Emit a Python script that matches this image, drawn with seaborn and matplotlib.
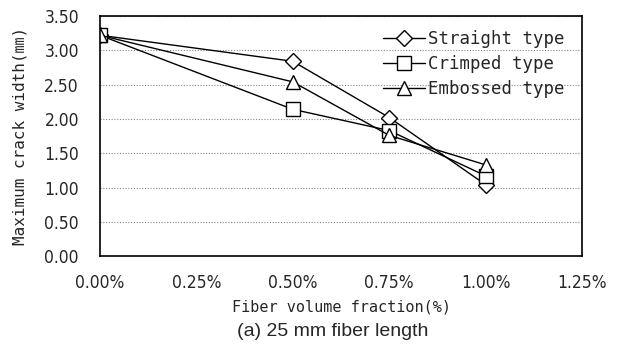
import matplotlib
matplotlib.use("Agg")
import matplotlib.pyplot as plt
import seaborn as sns
import pandas as pd
from matplotlib.ticker import FuncFormatter

fractions = [0.00, 0.50, 0.75, 1.00]
straight = [3.22, 2.84, 2.02, 1.04]
crimped = [3.22, 2.14, 1.83, 1.17]
embossed = [3.22, 2.54, 1.76, 1.33]
series_names = ["Straight type", "Crimped type", "Embossed type"]
x_ticks = [0.00, 0.25, 0.50, 0.75, 1.00, 1.25]
y_ticks = [0.00, 0.50, 1.00, 1.50, 2.00, 2.50, 3.00, 3.50]

rows = []
for name, vals in zip(series_names, [straight, crimped, embossed]):
    for f, v in zip(fractions, vals):
        rows.append({"fraction": f, "width": v, "type": name})
df = pd.DataFrame(rows)

sns.set_style("white")
plt.rcParams['font.family'] = ['DejaVu Sans', 'Noto Sans CJK KR']

fig = plt.figure(figsize=(6.2, 3.48), dpi=100)
ax = fig.add_axes([0.161, 0.264, 0.778, 0.690])

sns.lineplot(data=df, x="fraction", y="width", hue="type", style="type",
             markers={"Straight type": "D", "Crimped type": "s", "Embossed type": "^"},
             dashes=False, palette=["black"] * 3, linewidth=1.0,
             markersize=10.5, markerfacecolor="white", markeredgecolor="black",
             markeredgewidth=1.0, ax=ax)
for line in ax.get_lines():
    if line.get_marker() == "D":
        line.set_markersize(8.5)

ax.set_xlim(0, 1.25)
ax.set_ylim(0, 3.5)
ax.set_xticks(x_ticks)
ax.set_yticks(y_ticks)
ax.xaxis.set_major_formatter(FuncFormatter(lambda v, p: f"{v:.2f}%"))
ax.yaxis.set_major_formatter(FuncFormatter(lambda v, p: f"{v:.2f}"))
ax.tick_params(axis="x", labelsize=12.5, length=0, pad=13)
ax.tick_params(axis="y", labelsize=12.5, length=0, pad=15)
for lab in ax.get_xticklabels() + ax.get_yticklabels():
    lab.set_fontstretch("condensed")
ax.yaxis.grid(True, linestyle=(0, (1, 1.5)), color="#888888", linewidth=0.8)
ax.xaxis.grid(False)
for s in ax.spines.values():
    s.set_color("black")
    s.set_linewidth(1.2)

ax.set_xlabel("Fiber volume fraction(%)", fontsize=11,
              family=['DejaVu Sans Mono'], labelpad=5)
ax.set_ylabel("Maximum crack width(㎜)", fontsize=11.5,
              family=['DejaVu Sans Mono', 'Noto Sans CJK KR'], labelpad=12)

leg = ax.legend(loc="upper left", bbox_to_anchor=(0.588, 0.942), frameon=False,
                prop={'family': 'DejaVu Sans Mono', 'size': 12.5},
                handlelength=2.4, handletextpad=0.15, labelspacing=0.4,
                borderaxespad=0.0, borderpad=0.0)

fig.text(0.537, 0.048, "(a) 25 mm fiber length", ha="center", va="center",
         fontsize=14, family="Liberation Sans")

fig.savefig("out.png", dpi=100)
